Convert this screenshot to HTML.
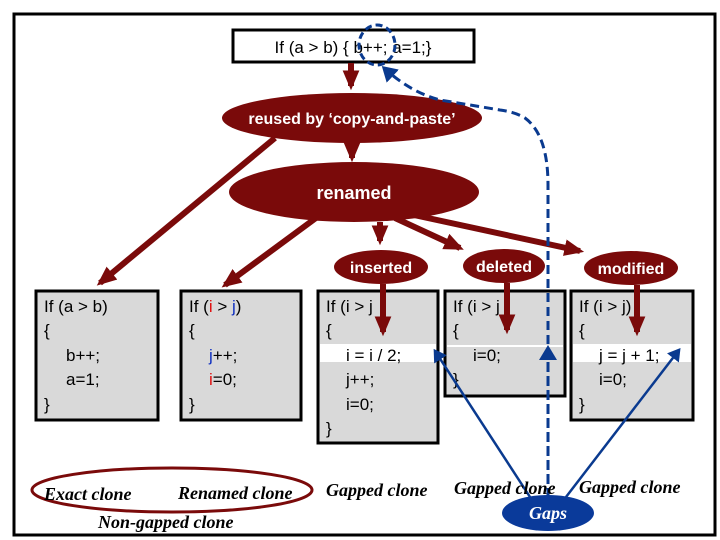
<!DOCTYPE html>
<html><head><meta charset="utf-8"><style>
html,body{margin:0;padding:0;background:#fff;}
svg{display:block;}
.c{font-family:"Liberation Sans",sans-serif;font-size:17px;fill:#000;}
.w{font-family:"Liberation Sans",sans-serif;font-weight:bold;fill:#fff;}
.l{font-family:"Liberation Serif",serif;font-style:italic;font-weight:bold;font-size:18px;fill:#000;}
</style></head><body>
<svg width="720" height="540" viewBox="0 0 720 540" xmlns="http://www.w3.org/2000/svg">
<defs>
<marker id="r" markerWidth="4" markerHeight="4" refX="2.6" refY="1.4" orient="auto" markerUnits="strokeWidth"><path d="M0,0 L3.3,1.4 L0,2.8 z" fill="#7a0a0a"/></marker>
<marker id="b" markerWidth="6" markerHeight="6" refX="4" refY="3" orient="auto" markerUnits="strokeWidth"><path d="M0,0 L5,3 L0,6 z" fill="#0a3a8f"/></marker>
</defs>
<rect x="14" y="14" width="701" height="521" fill="#fff" stroke="#000" stroke-width="3"/>
<rect x="233" y="30" width="241" height="32" fill="#fff" stroke="#000" stroke-width="3"/>
<text x="353" y="53" class="c" font-size="18" text-anchor="middle">If (a &gt; b) { b++; a=1;}</text>

<g stroke="#7a0a0a" stroke-width="6" fill="none" marker-end="url(#r)">
<line x1="351" y1="63" x2="351" y2="86"/>
<line x1="352" y1="143" x2="352" y2="158"/>
<line x1="275" y1="138" x2="100" y2="283"/>
<line x1="320" y1="215" x2="225" y2="285"/>
<line x1="380" y1="222" x2="380" y2="241"/>
<line x1="395" y1="218" x2="460" y2="248"/>
<line x1="400" y1="212" x2="580" y2="251"/>
</g>
<ellipse cx="352" cy="118" rx="130" ry="25" fill="#7a0a0a"/>
<text x="352" y="124" class="w" font-size="16" text-anchor="middle">reused by ‘copy-and-paste’</text>
<ellipse cx="354" cy="192" rx="125" ry="30" fill="#7a0a0a"/>
<text x="354" y="199" class="w" font-size="18" text-anchor="middle">renamed</text>
<ellipse cx="381" cy="267" rx="47" ry="17" fill="#7a0a0a"/>
<text x="381" y="273" class="w" font-size="16" text-anchor="middle">inserted</text>
<ellipse cx="504" cy="266" rx="41" ry="17" fill="#7a0a0a"/>
<text x="504" y="272" class="w" font-size="16" text-anchor="middle">deleted</text>
<ellipse cx="631" cy="268" rx="47" ry="17" fill="#7a0a0a"/>
<text x="631" y="274" class="w" font-size="16" text-anchor="middle">modified</text>

<g stroke="#000" stroke-width="3" fill="#d9d9d9">
<rect x="36" y="291" width="122" height="129"/>
<rect x="181" y="291" width="120" height="129"/>
<rect x="318" y="291" width="120" height="152"/>
<rect x="445" y="291" width="120" height="105"/>
<rect x="571" y="291" width="122" height="129"/>
</g>
<rect x="320" y="344" width="116" height="18" fill="#fff"/>
<rect x="447" y="345" width="116" height="2" fill="#fff"/>
<rect x="573" y="344" width="118" height="18" fill="#fff"/>

<text class="c"><tspan x="44" y="312">If (a &gt; b)</tspan><tspan x="44" y="336">{</tspan><tspan x="66" y="361">b++;</tspan><tspan x="66" y="385">a=1;</tspan><tspan x="44" y="410">}</tspan></text>
<text class="c"><tspan x="189" y="312">If (<tspan fill="#e01010">i</tspan> &gt; <tspan fill="#1030c0">j</tspan>)</tspan><tspan x="189" y="336">{</tspan><tspan x="209" y="361" fill="#1030c0">j</tspan><tspan>++;</tspan><tspan x="209" y="385" fill="#e01010">i</tspan><tspan>=0;</tspan><tspan x="189" y="410">}</tspan></text>
<text class="c"><tspan x="326" y="312">If (i &gt; j</tspan><tspan x="326" y="336">{</tspan><tspan x="346" y="361">i = i / 2;</tspan><tspan x="346" y="385">j++;</tspan><tspan x="346" y="410">i=0;</tspan><tspan x="326" y="434">}</tspan></text>
<text class="c"><tspan x="453" y="312">If (i &gt; j</tspan><tspan x="453" y="336">{</tspan><tspan x="473" y="361">i=0;</tspan><tspan x="453" y="385">}</tspan></text>
<text class="c"><tspan x="579" y="312">If (i &gt; j)</tspan><tspan x="579" y="336">{</tspan><tspan x="599" y="361">j = j + 1;</tspan><tspan x="599" y="385">i=0;</tspan><tspan x="579" y="410">}</tspan></text>

<g stroke="#7a0a0a" stroke-width="6" fill="none" marker-end="url(#r)">
<line x1="383" y1="284" x2="383" y2="332"/>
<line x1="507" y1="283" x2="507" y2="330"/>
<line x1="637" y1="285" x2="637" y2="332"/>
</g>

<ellipse cx="377" cy="45" rx="18" ry="20" fill="none" stroke="#0a3a8f" stroke-width="3" stroke-dasharray="7,4"/>
<path d="M548,498 L548,185 Q548,135 525,118 Q515,112 500,110 L440,100 Q410,92 384,68" fill="none" stroke="#0a3a8f" stroke-width="3" stroke-dasharray="9,5" marker-end="url(#b)"/>
<line x1="548" y1="497" x2="548" y2="348" stroke="#0a3a8f" stroke-width="3" stroke-dasharray="9,5" marker-end="url(#b)"/>
<g stroke="#0a3a8f" stroke-width="2.5" marker-end="url(#b)">
<line x1="530" y1="497" x2="435" y2="351"/>
<line x1="566" y1="497" x2="679" y2="350"/>
</g>

<ellipse cx="172" cy="490" rx="140" ry="22" fill="none" stroke="#7a0a0a" stroke-width="3"/>
<text x="44" y="500" class="l">Exact clone</text>
<text x="178" y="499" class="l">Renamed clone</text>
<text x="98" y="528" class="l" font-size="16">Non-gapped clone</text>
<text x="326" y="496" class="l">Gapped clone</text>
<text x="454" y="494" class="l">Gapped clone</text>
<text x="579" y="493" class="l">Gapped clone</text>
<ellipse cx="548" cy="513" rx="46" ry="18" fill="#0a3a9a"/>
<text x="548" y="519" class="l" font-size="16" style="fill:#fff" text-anchor="middle">Gaps</text>
</svg>
</body></html>
